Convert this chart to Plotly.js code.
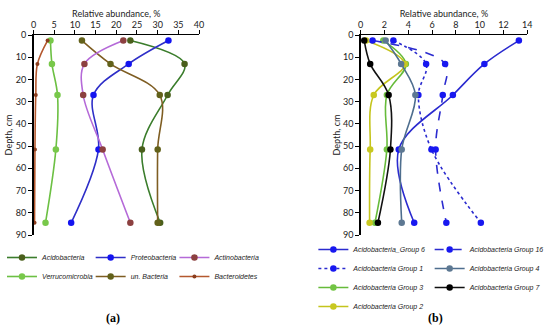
<!DOCTYPE html>
<html>
<head>
<meta charset="utf-8">
<script src="https://cdn.plot.ly/plotly-3.0.1.min.js"></script>
<style>html,body{margin:0;padding:0;background:#fff;}#chart{width:550px;height:329px;}</style>
</head>
<body>
<div id="chart"></div>
<script>
// ---- Data ----
const depth = [2.5, 13, 27, 51.5, 84.5];

// Panel (a): relative abundance of phyla, %
const acidobacteria   = [23.4, 36.5, 32.4, 26.2, 30.6];
const proteobacteria  = [32.6, 23.0, 14.5, 15.7, 9.1];
const actinobacteria  = [21.7, 12.3, 12.0, 16.7, 23.4];
const verrucomicrobia = [4.1, 4.45, 5.8, 5.4, 2.9];
const unBacteria      = [11.7, 18.6, 30.5, 30.0, 30.0];
const bacteroidetes   = [3.4, 0.95, 0.55, 0.35, 0.25];

// Panel (b): Acidobacteria groups, %
const group6  = [13.3, 10.4, 7.75, 3.2, 4.5];
const group16 = [1.0, 7.1, 6.9, 6.3, 7.2];
const group1  = [2.75, 5.5, 4.85, 5.95, 10.1];
const group4  = [2.1, 3.4, 4.6, 3.45, 3.45];
const group3  = [1.9, 3.8, 2.2, 2.2, 1.2];
const group7  = [0.3, 0.8, 2.35, 2.5, 1.45];
const group2  = [0.45, 3.7, 1.1, 0.8, 0.75];

const xTicksA = [0, 5, 10, 15, 20, 25, 30, 35, 40];
const xTicksB = [0, 2, 4, 6, 8, 10, 12, 14];
const yTicks  = [0, 10, 20, 30, 40, 50, 60, 70, 80, 90];

// ---- Traces ----
function tr(name, x, xa, legend, lineColor, markerColor, dash, msize) {
  return {
    type: 'scatter', mode: 'lines+markers', name: name,
    x: x, y: depth, xaxis: xa, yaxis: xa === 'x' ? 'y' : 'y2',
    legend: legend,
    line: {color: lineColor, width: 1.6, shape: 'spline', smoothing: 1, dash: dash || 'solid'},
    marker: {color: markerColor, size: msize || 6.5, line: {width: 0}},
    hoverinfo: 'skip'
  };
}

const traces = [
  tr('Acidobacteria',   acidobacteria,   'x', 'legend',  '#3b7d2c', '#4a5f1c'),
  tr('Verrucomicrobia', verrucomicrobia, 'x', 'legend',  '#6cc043', '#78c84a'),
  tr('Proteobacteria',  proteobacteria,  'x', 'legend2', '#2f2fc8', '#1414f0'),
  tr('un. Bacteria',    unBacteria,      'x', 'legend2', '#7e5d22', '#62611a'),
  tr('Actinobacteria',  actinobacteria,  'x', 'legend3', '#b56ad8', '#8c4040'),
  tr('Bacteroidetes',   bacteroidetes,   'x', 'legend3', '#b4582e', '#8a3d1e', null, 4),

  tr('Acidobacteria_Group 6', group6,  'x2', 'legend4', '#2b2bcf', '#1818f0'),
  tr('Acidobacteria Group 1', group1,  'x2', 'legend4', '#2b2bcf', '#1818f0', 'dot'),
  tr('Acidobacteria Group 3', group3,  'x2', 'legend4', '#66bb3a', '#72c444'),
  tr('Acidobacteria Group 2', group2,  'x2', 'legend4', '#c4c41c', '#c8c820'),
  tr('Acidobacteria Group 16', group16, 'x2', 'legend5', '#2b2bcf', '#1818f0', 'dash'),
  tr('Acidobacteria Group 4', group4,  'x2', 'legend5', '#4e6e8e', '#5d7892'),
  tr('Acidobacteria Group 7', group7,  'x2', 'legend5', '#111111', '#000000')
];

const W = 550, H = 329;
const tickFont = {family: 'Lato, Liberation Sans, sans-serif', size: 9, color: '#222'};
const titleFont = {family: 'Lato, Liberation Sans, sans-serif', size: 9, color: '#222'};

function xAxis(domain, range, ticks, anchor) {
  return {
    domain: domain, range: range, side: 'top', anchor: anchor,
    tickvals: ticks, ticks: 'outside', ticklen: 4, tickwidth: 1, tickcolor: '#000',
    ticklabelstandoff: -2,
    showline: true, linecolor: '#000', linewidth: 1.5, showgrid: false, zeroline: false,
    tickfont: tickFont, automargin: false,
    title: {text: 'Relative abundance, %', font: titleFont, standoff: 0}
  };
}
function yAxis(domain, anchor) {
  return {
    domain: domain, range: [90, 0], anchor: anchor,
    tickvals: yTicks, ticks: 'outside', ticklen: 4, tickwidth: 1, tickcolor: '#000',
    showline: true, linecolor: '#000', linewidth: 1.5, showgrid: false, zeroline: false,
    tickfont: tickFont, automargin: false,
    title: {text: 'Depth, cm', font: titleFont, standoff: 1}
  };
}

const yDom = [1 - 235 / H, 1 - 35 / H];
const legFont = {family: 'Liberation Sans, sans-serif', size: 7, color: '#222', style: 'italic'};
function leg(px, topPx) {
  return {x: px / W, xanchor: 'left', y: 1 - topPx / H, yanchor: 'top', orientation: 'v',
          font: legFont, bgcolor: 'rgba(0,0,0,0)', borderwidth: 0, tracegroupgap: 0};
}

const layout = {
  width: W, height: H,
  margin: {l: 0, r: 0, t: 0, b: 0},
  paper_bgcolor: '#fff', plot_bgcolor: '#fff',
  showlegend: true,
  xaxis:  xAxis([34 / W, 202 / W], [0, 40], xTicksA, 'y'),
  yaxis:  yAxis(yDom, 'x'),
  xaxis2: xAxis([366 / W, 535 / W], [0, 14], xTicksB, 'y2'),
  yaxis2: yAxis(yDom, 'x2'),
  legend:  leg(2, 243),
  legend2: leg(92, 243),
  legend3: leg(177, 243),
  legend4: leg(318, 235),
  legend5: leg(436, 235),
  annotations: [
    {text: '<b>(a)</b>', x: 115 / W, y: 1 - 318 / H, xref: 'paper', yref: 'paper',
     xanchor: 'center', yanchor: 'middle', showarrow: false,
     font: {family: 'Liberation Serif, serif', size: 12, color: '#000'}},
    {text: '<b>(b)</b>', x: 442 / W, y: 1 - 318 / H, xref: 'paper', yref: 'paper',
     xanchor: 'center', yanchor: 'middle', showarrow: false,
     font: {family: 'Liberation Serif, serif', size: 12, color: '#000'}}
  ]
};

Plotly.newPlot('chart', traces, layout, {displayModeBar: false, staticPlot: true});
</script>
</body>
</html>
